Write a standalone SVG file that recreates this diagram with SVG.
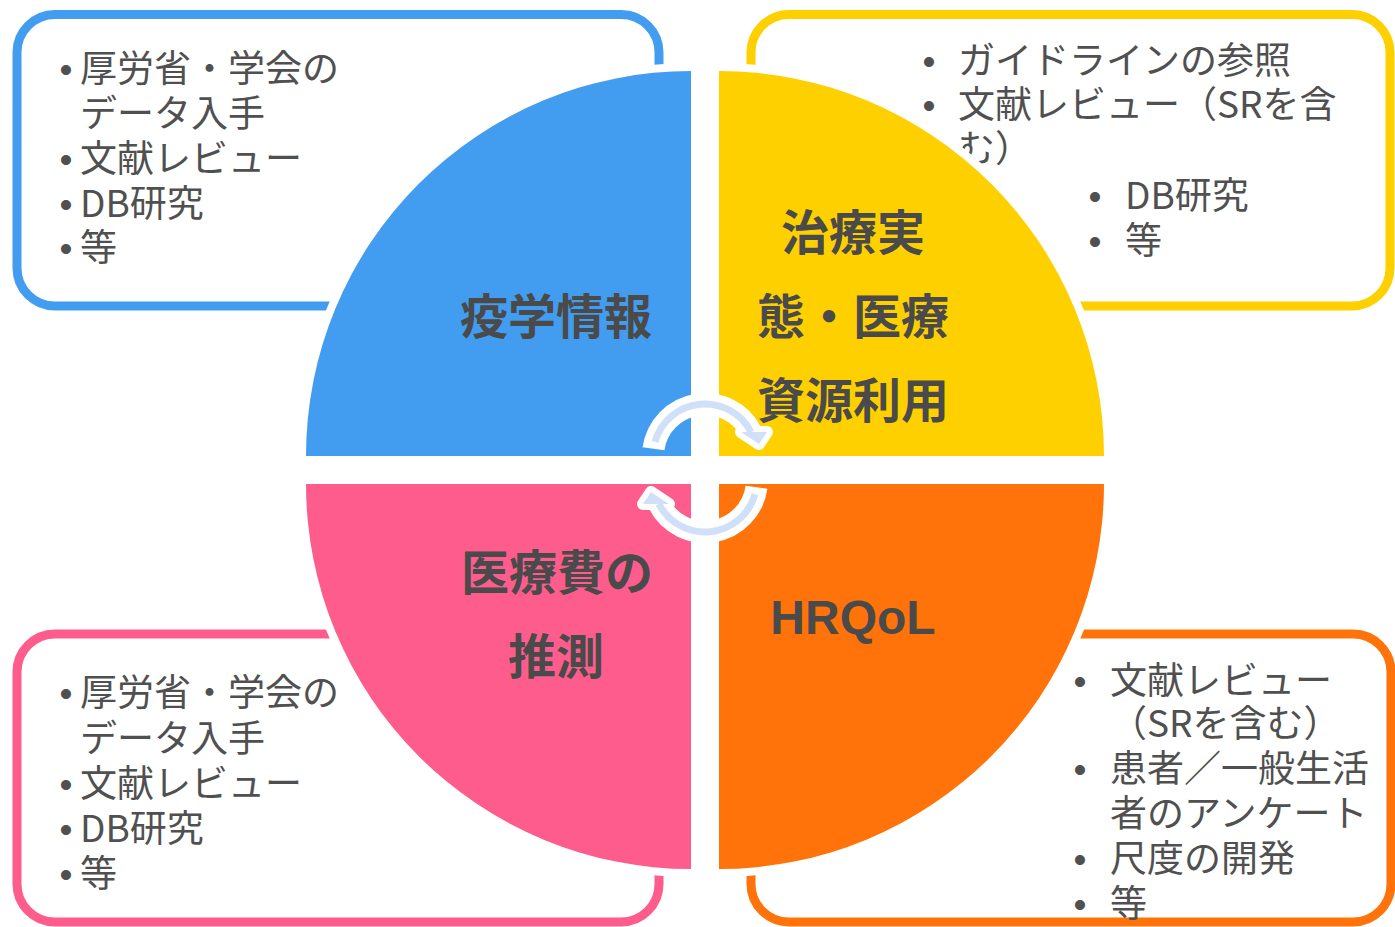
<svg xmlns="http://www.w3.org/2000/svg" width="1395" height="927" viewBox="0 0 1395 927">
<style>
.box{fill:#FFFFFF;stroke-width:9}
.q{stroke:#FFFFFF;stroke-width:16;paint-order:stroke;stroke-linejoin:miter}
.t{font-family:"Noto Sans CJK JP","Noto Sans",sans-serif;font-size:37px;fill:#505050}
.b{font-family:"Liberation Sans",Arial,sans-serif}
.lbl{font-family:"Noto Sans CJK JP","Noto Sans",sans-serif;font-size:48px;font-weight:700;fill:#4A4A4A;text-anchor:middle}
.lat{font-family:"Liberation Sans",Arial,sans-serif;font-size:48px;font-weight:700;fill:#4A4A4A;text-anchor:middle}
.aw{fill:none;stroke:#FFFFFF;stroke-width:22}
.al{fill:none;stroke:#D0E0F8;stroke-width:7}
.hw{fill:#FFFFFF;stroke:#FFFFFF;stroke-width:12;stroke-linejoin:round}
.hl{fill:#D0E0F8}
</style>
<rect width="1395" height="927" fill="#FFFFFF"/>
<g id="box-epi">
<rect class="box" x="17" y="14.5" width="642" height="291.5" rx="38" stroke="#429DF0"/>
<text class="t"><tspan class="b" x="59.5" y="82">•</tspan><tspan x="80" y="82">厚労省・学会の</tspan><tspan x="80" y="127">データ入手</tspan><tspan class="b" x="59.5" y="172">•</tspan><tspan x="80" y="172">文献レビュー</tspan><tspan class="b" x="59.5" y="217">•</tspan><tspan x="80" y="217">DB研究</tspan><tspan class="b" x="59.5" y="261">•</tspan><tspan x="80" y="261">等</tspan></text>
</g>
<g id="box-treat">
<rect class="box" x="751" y="14.5" width="639" height="291.5" rx="38" stroke="#FFD000"/>
<text class="t"><tspan class="b" x="922.5" y="74">•</tspan><tspan x="958" y="74">ガイドラインの参照</tspan><tspan class="b" x="922.5" y="118">•</tspan><tspan x="958" y="118">文献レビュー（SRを含</tspan><tspan x="958" y="162">む）</tspan><tspan class="b" x="1088.5" y="209">•</tspan><tspan x="1125" y="209">DB研究</tspan><tspan class="b" x="1088.5" y="254">•</tspan><tspan x="1125" y="254">等</tspan></text>
</g>
<g id="box-cost">
<rect class="box" x="17" y="634" width="642" height="288" rx="38" stroke="#FF5C8E"/>
<text class="t"><tspan class="b" x="59.5" y="706">•</tspan><tspan x="80" y="706">厚労省・学会の</tspan><tspan x="80" y="752">データ入手</tspan><tspan class="b" x="59.5" y="797">•</tspan><tspan x="80" y="797">文献レビュー</tspan><tspan class="b" x="59.5" y="842">•</tspan><tspan x="80" y="842">DB研究</tspan><tspan class="b" x="59.5" y="887">•</tspan><tspan x="80" y="887">等</tspan></text>
</g>
<g id="box-hrqol">
<rect class="box" x="751" y="634" width="640" height="288" rx="38" stroke="#FF730A"/>
<text class="t"><tspan class="b" x="1073.5" y="694">•</tspan><tspan x="1110" y="694">文献レビュー</tspan><tspan x="1110" y="737">（SRを含む）</tspan><tspan class="b" x="1073.5" y="782">•</tspan><tspan x="1110" y="782">患者／一般生活</tspan><tspan x="1110" y="827">者のアンケート</tspan><tspan class="b" x="1073.5" y="872">•</tspan><tspan x="1110" y="872">尺度の開発</tspan><tspan class="b" x="1073.5" y="917">•</tspan><tspan x="1110" y="917">等</tspan></text>
</g>
<g id="q-epi">
<path class="q" fill="#429DF0" d="M691,456 L306,456 A385,385 0 0 1 691,71 Z"/>
<text class="lbl" x="556" y="334">疫学情報</text>
</g>
<g id="q-treat">
<path class="q" fill="#FFD000" d="M719,456 L719,71 A385,385 0 0 1 1104,456 Z"/>
<text class="lbl"><tspan x="853" y="250">治療実</tspan><tspan x="853" y="334">態・医療</tspan><tspan x="853" y="418">資源利用</tspan></text>
</g>
<g id="q-cost">
<path class="q" fill="#FF5C8E" d="M691,484 L691,869 A385,385 0 0 1 306,484 Z"/>
<text class="lbl"><tspan x="557" y="590">医療費の</tspan><tspan x="556" y="674">推測</tspan></text>
</g>
<g id="q-hrqol">
<path class="q" fill="#FF730A" d="M719,484 L1104,484 A385,385 0 0 1 719,869 Z"/>
<text class="lat" x="853" y="634">HRQoL</text>
</g>
<g id="connectors">
<g id="arrow-top">
<path class="aw" d="M653.5,448.8 A52,52 0 0 1 751.1,432"/>
<polygon class="hw" points="741,432 767,432 759,444"/>
<path class="al" d="M655,441.7 A52,52 0 0 1 751.1,432"/>
<polygon class="hl" points="741,432 767,432 759,444"/>
</g>
<g id="arrow-bottom" transform="rotate(180 705 468)">
<path class="aw" d="M653.5,448.8 A52,52 0 0 1 751.1,432"/>
<polygon class="hw" points="741,432 767,432 759,444"/>
<path class="al" d="M655,441.7 A52,52 0 0 1 751.1,432"/>
<polygon class="hl" points="741,432 767,432 759,444"/>
</g>
</g>
</svg>
